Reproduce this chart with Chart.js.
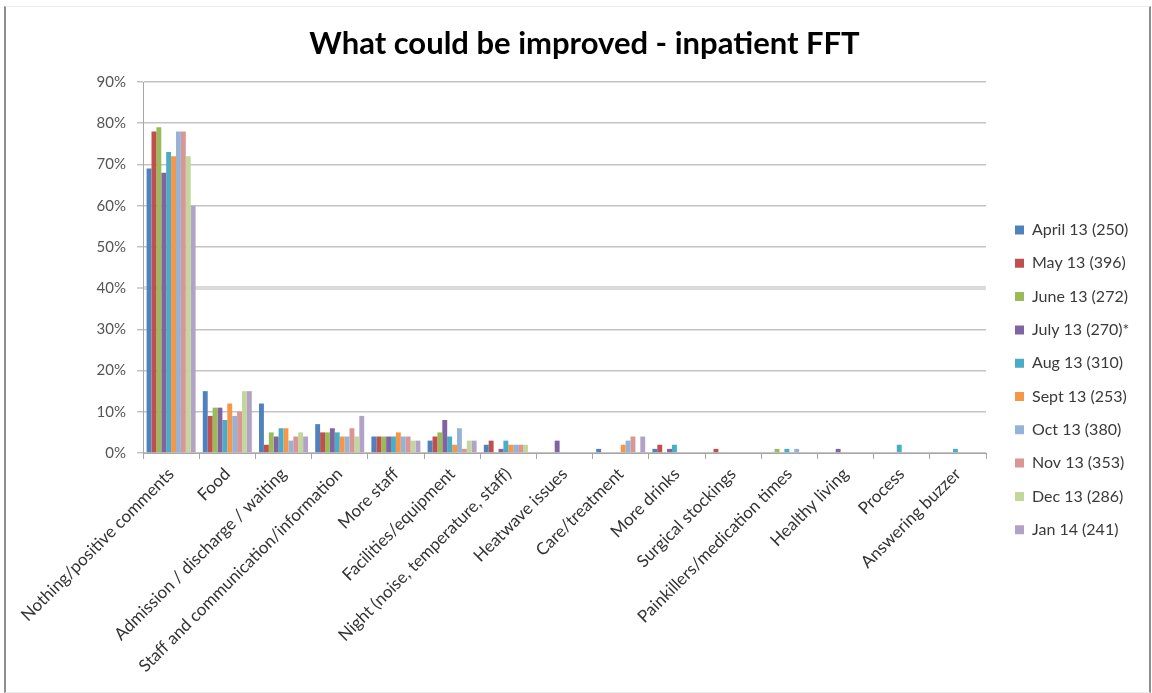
<!DOCTYPE html>
<html>
<head>
<meta charset="utf-8">
<script src="https://cdn.jsdelivr.net/npm/chart.js@4.4.1/dist/chart.umd.min.js"></script>
<style>
  html, body { margin: 0; padding: 0; background: #fff; }
  #wrap { position: relative; width: 1152px; height: 693px; }
  #frame {
    position: absolute; left: 4px; top: 6px; width: 1147px; height: 687px;
    box-sizing: border-box;
    border-left: 2px solid #8e8e8e; border-right: 2px solid #8e8e8e;
    border-top: 1px solid #ececec; border-bottom: 1px solid #ececec;
    pointer-events: none;
  }
</style>
</head>
<body>
<div id="wrap">
  <canvas id="c" width="1152" height="693"></canvas>
  <div id="frame"></div>
</div>
<script>
// Comment themes (x axis)
const categories = [
  'Nothing/positive comments',
  'Food',
  'Admission / discharge / waiting',
  'Staff and communication/information',
  'More staff',
  'Facilities/equipment',
  'Night (noise, temperature, staff)',
  'Heatwave issues',
  'Care/treatment',
  'More drinks',
  'Surgical stockings',
  'Painkillers/medication times',
  'Healthy living',
  'Process',
  'Answering buzzer'
];

// Survey months with number of responses
const seriesLabels = [
  'April 13 (250)', 'May 13 (396)', 'June 13 (272)', 'July 13 (270)*',
  'Aug 13 (310)', 'Sept 13 (253)', 'Oct 13 (380)', 'Nov 13 (353)',
  'Dec 13 (286)', 'Jan 14 (241)'
];

// Percentage of comments per theme, one array per month
const apr13 = [69, 15, 12, 7, 4, 3, 2, 0, 1, 1, 0, 0, 0, 0, 0];
const may13 = [78, 9, 2, 5, 4, 4, 3, 0, 0, 2, 1, 0, 0, 0, 0];
const jun13 = [79, 11, 5, 5, 4, 5, 0, 0, 0, 0, 0, 1, 0, 0, 0];
const jul13 = [68, 11, 4, 6, 4, 8, 1, 3, 0, 1, 0, 0, 1, 0, 0];
const aug13 = [73, 8, 6, 5, 4, 4, 3, 0, 0, 2, 0, 1, 0, 2, 1];
const sep13 = [72, 12, 6, 4, 5, 2, 2, 0, 2, 0, 0, 0, 0, 0, 0];
const oct13 = [78, 9, 3, 4, 4, 6, 2, 0, 3, 0, 0, 1, 0, 0, 0];
const nov13 = [78, 10, 4, 6, 4, 1, 2, 0, 4, 0, 0, 0, 0, 0, 0];
const dec13 = [72, 15, 5, 4, 3, 3, 2, 0, 0, 0, 0, 0, 0, 0, 0];
const jan14 = [60, 15, 4, 9, 3, 3, 0, 0, 4, 0, 0, 0, 0, 0, 0];

const seriesValues = [apr13, may13, jun13, jul13, aug13, sep13, oct13, nov13, dec13, jan14];

// Percentage axis tick values
const yTickValues = [0, 10, 20, 30, 40, 50, 60, 70, 80, 90];

const seriesColors = [
  '#4F81BD', '#C0504D', '#9BBB59', '#8064A2', '#4BACC6',
  '#F79646', '#95B3D7', '#D99694', '#C3D69B', '#B3A2C7'
];

const FONT = 'Lato, "Open Sans", sans-serif';

// Legend geometry: width depends on the widest label
const legendFontSize = 16;
const legendPad = 17.3;
const legendBoxW = 9;
const probe = document.createElement('canvas').getContext('2d');
probe.font = legendFontSize + 'px ' + FONT;
const widest = Math.max(...seriesLabels.map(t => probe.measureText(t).width));
const legendLeft = 1015 - legendPad;
const legendWidth = legendPad + legendBoxW + legendFontSize / 2 + widest + 10;
const padRight = 1152 - legendLeft - legendWidth;
const padLeft = padRight + 17;
const plotLeft = 143;
const plotRight = 986;
const plotBottom = 453;

new Chart(document.getElementById('c'), {
  type: 'bar',
  data: {
    labels: categories,
    datasets: seriesValues.map((vals, i) => ({
      label: seriesLabels[i],
      data: vals,
      backgroundColor: seriesColors[i],
      borderWidth: 0,
      categoryPercentage: 0.872,
      barPercentage: 1.0
    }))
  },
  options: {
    responsive: false,
    animation: false,
    devicePixelRatio: 1,
    layout: { padding: { left: padLeft, right: padRight, top: 0, bottom: 0 } },
    plugins: {
      title: {
        display: true,
        text: 'What could be improved - inpatient FFT',
        color: '#000',
        font: { family: FONT, size: 31, weight: 'bold' },
        padding: { top: 25.4, bottom: 19.4 }
      },
      legend: {
        position: 'right',
        align: 'center',
        title: { display: true, text: '', font: { size: 12 }, padding: { top: 52.3, bottom: 0 } },
        labels: {
          boxWidth: legendBoxW,
          boxHeight: 9,
          padding: legendPad,
          color: '#3a3a3a',
          font: { family: FONT, size: legendFontSize }
        }
      },
      tooltip: { enabled: false }
    },
    scales: {
      x: {
        grid: {
          display: true,
          drawOnChartArea: false,
          drawTicks: true,
          tickLength: 6,
          color: '#a6a6a6',
          offset: true
        },
        border: { display: true, color: '#a6a6a6', width: 1 },
        ticks: {
          autoSkip: false,
          maxRotation: 45,
          minRotation: 45,
          padding: 5,
          color: '#333333',
          font: { family: FONT, size: 17 }
        },
        afterFit: s => { s.height = 693 - plotBottom; }
      },
      y: {
        min: 0,
        max: 90,
        afterBuildTicks: s => { s.ticks = yTickValues.map(v => ({ value: v })); },
        grid: {
          color: c => (c.tick && c.tick.value === 40) ? '#dadada' : '#c4c4c4',
          lineWidth: c => (c.tick && c.tick.value === 40) ? 4 : 1.6,
          tickLength: 6,
          tickColor: '#a6a6a6',
          tickWidth: 1
        },
        border: { display: true, color: '#a6a6a6', width: 1 },
        ticks: {
          padding: 11,
          color: '#555555',
          font: { family: FONT, size: 15 },
          callback: v => v + '%'
        },
        afterFit: s => { s.width = plotLeft - padLeft; }
      },
      gap: {
        axis: 'y',
        position: 'right',
        display: true,
        grid: { display: false, drawTicks: false },
        border: { display: false },
        ticks: { display: false },
        afterFit: s => { s.width = legendLeft - plotRight; }
      }
    }
  }
});
</script>
</body>
</html>
